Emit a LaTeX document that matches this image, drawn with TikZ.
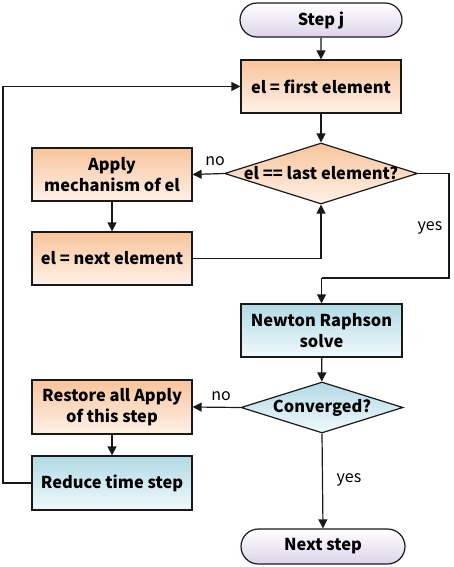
\documentclass[tikz,border=0pt]{standalone}
\usepackage{fontspec}
\setmainfont{Noto Sans CJK SC}
\usetikzlibrary{shapes.geometric,shapes.misc,arrows.meta}
\definecolor{orT}{HTML}{F8C49C}
\definecolor{orB}{HTML}{FEF1E8}
\definecolor{blT}{HTML}{B2DAE5}
\definecolor{blB}{HTML}{F0F9FB}
\definecolor{puT}{HTML}{FFFFFF}
\definecolor{puB}{HTML}{DDD4E8}
\tikzset{
  base/.style={draw=black!90, line width=1.2pt, inner sep=0pt, align=center, font=\fontsize{16.4}{21.5}\selectfont\bfseries},
  orbox/.style={base, rectangle, top color=orT, bottom color=orB, minimum width=160pt, minimum height=53pt},
  blbox/.style={base, rectangle, top color=blT, bottom color=blB, minimum width=160pt, minimum height=53pt},
  term/.style={base, rounded rectangle, top color=puT, bottom color=puB, minimum height=34pt},
  decor/.style={base, diamond, minimum width=193pt, minimum height=61pt},
  conn/.style={line width=1.2pt, draw=black!90, -{Triangle[length=9pt,width=9pt]}},
  line/.style={line width=1.2pt, draw=black!90},
  lab/.style={font=\fontsize{16}{19}\selectfont, inner sep=0pt}
}
\begin{document}
\begin{tikzpicture}[x=1pt,y=-1pt]
\useasboundingbox (0,0) rectangle (454,567);
\node[term, minimum width=162pt] (stepj) at (321,20) {Step j};
\node[orbox] (first) at (321,86.5) {el = first element};
\node[decor, top color=orT, bottom color=orB, label={center:{\fontsize{16.4}{19.5}\selectfont\bfseries el == last element?}}] (d1) at (321,173.5) {};
\node[orbox] (apply) at (112,174.5) {Apply\\mechanism of el};
\node[orbox] (next) at (112,258.5) {el = next element};
\node[blbox, minimum width=161pt] (newton) at (321.5,330.5) {Newton Raphson\\solve};
\node[decor, minimum width=162pt, minimum height=51pt, top color=blT, bottom color=blB, label={center:{\fontsize{16.4}{19.5}\selectfont\bfseries Converged?}}] (d2) at (322,407.5) {};
\node[orbox, minimum height=54pt] (restore) at (112,407) {Restore all Apply\\of this step};
\node[blbox, minimum height=54pt] (reduce) at (112,483) {Reduce time step};
\node[term, minimum width=164pt, minimum height=35pt] (nextstep) at (323,546.5) {Next step};

\node[lab] (no1) at (215,161) {no};
\node[lab] (yes1) at (430,228) {yes};
\node[lab] (no2) at (221,396) {no};
\node[lab] (yes2) at (349,480) {yes};

\coordinate (r1) at (449,173.5);
\coordinate (r2) at (449,278);
\coordinate (r3) at (321.5,278);
\coordinate (l1) at (3,483);

\draw[conn] (stepj) -- (first);
\draw[conn] (first) -- (d1);
\draw[conn] (d1.west) -- (apply.east);
\draw[conn] (apply) -- (next);
\draw[conn] (next.east) -| (d1.south);
\draw[line] (d1.east) -- (r1) -- (r2) -- (r3);
\draw[conn] (r3) -- (newton.north);
\draw[conn] (newton) -- (d2);
\draw[conn] (d2.west) -- (restore.east);
\draw[conn] (restore) -- (reduce);
\draw[conn] (d2.south) -- (nextstep.north);
\draw[conn] (reduce.west) -- (l1) |- (first.west);
\end{tikzpicture}
\end{document}
